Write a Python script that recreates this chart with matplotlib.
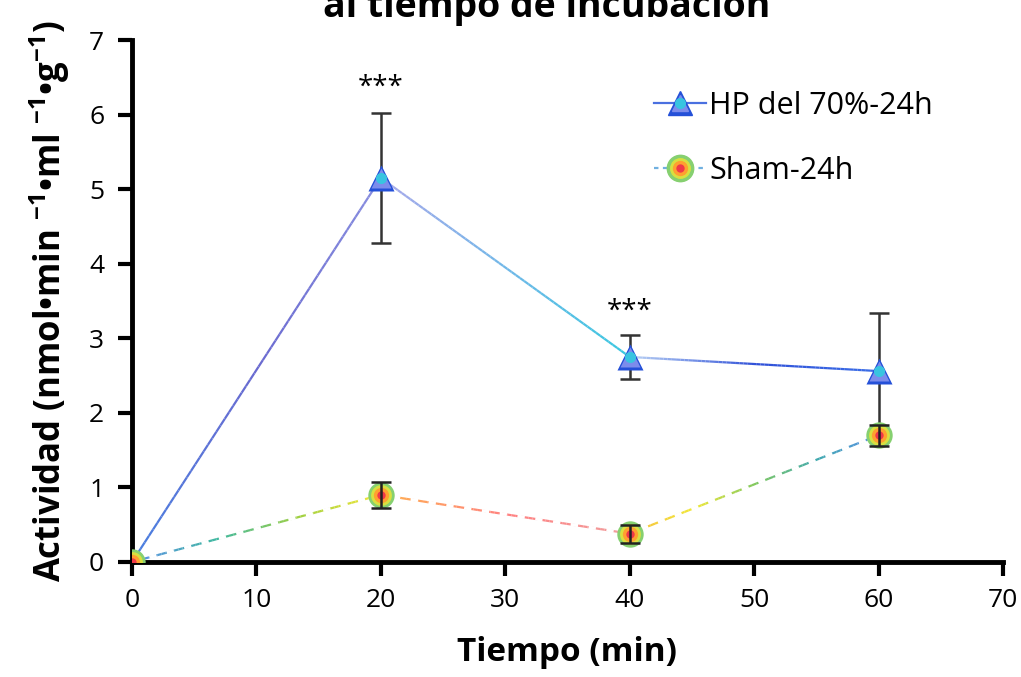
import numpy as np
import matplotlib.pyplot as plt
from matplotlib.collections import LineCollection
from matplotlib.colors import LinearSegmentedColormap
from matplotlib.lines import Line2D
from matplotlib.legend_handler import HandlerTuple

plt.rcParams['font.family'] = ['Open Sans', 'DejaVu Sans']
plt.rcParams['mathtext.fontset'] = 'custom'
plt.rcParams['mathtext.rm'] = 'Open Sans'
plt.rcParams['mathtext.default'] = 'regular'

# Actividad vs tiempo de incubacion
tiempo = [0, 20, 40, 60]
hp_media = [0.0, 5.15, 2.75, 2.56]
hp_err = [0.0, 0.87, 0.30, 0.78]
sham_media = [0.0, 0.90, 0.38, 1.70]
sham_err = [0.0, 0.17, 0.12, 0.14]
sig_x = [20, 40]
sig_y = [6.36, 3.35]
sig_text = ['***', '***']

hp_label = 'HP del 70%-24h'
sham_label = 'Sham-24h'

# colour stops along each segment of the lines
hp_stops = [['#4a7fe0', '#6a6ad0', '#8a90e0'],
            ['#a8a8ea', '#70b8e8', '#38c8e0'],
            ['#b8d0f4', '#3050d8', '#3a6ee8']]
sham_stops = [['#5b8fe8', '#40b8a0', '#a0d040', '#f8e838'],
              ['#ffb050', '#ff8080', '#f0a0a0'],
              ['#f8c040', '#f0e838', '#80c860', '#40a8b0', '#5b8fe8']]


def gradient_line(ax, x, y, stops, lw, z):
    for i in range(len(x) - 1):
        cmap = LinearSegmentedColormap.from_list('seg', stops[i])
        t = np.linspace(0, 1, 60)
        xs = x[i] + (x[i + 1] - x[i]) * t
        ys = y[i] + (y[i + 1] - y[i]) * t
        pts = np.column_stack([xs, ys]).reshape(-1, 1, 2)
        segs = np.concatenate([pts[:-1], pts[1:]], axis=1)
        lc = LineCollection(segs, colors=cmap(t[:-1]), linewidth=lw,
                            zorder=z, capstyle='butt')
        ax.add_collection(lc)


fig = plt.figure(figsize=(10.21, 6.77), dpi=100)
ax = fig.add_axes([0.1293, 0.1699, 0.853, 0.771])

# Sham: dashed gradient line (white gaps drawn over a solid gradient)
gradient_line(ax, tiempo, sham_media, sham_stops, 1.6, 2)
ax.plot(tiempo, sham_media, color='white', lw=2.4, dashes=(2.2, 3.2),
        dash_capstyle='butt', zorder=2.1)
# HP: solid gradient line
gradient_line(ax, tiempo, hp_media, hp_stops, 1.6, 3)

# error bars
ax.errorbar(tiempo[1:], hp_media[1:], yerr=hp_err[1:], fmt='none',
            ecolor='#333333', elinewidth=1.8, capsize=7, capthick=1.8, zorder=4)
ax.errorbar(tiempo[1:], sham_media[1:], yerr=sham_err[1:], fmt='none',
            ecolor='#222222', elinewidth=1.8, capsize=7, capthick=1.8, zorder=7)

# Sham markers: green-yellow-orange-red rings
for ms, c in [(19, '#86d070'), (15, '#d8e040'), (11, '#ffa030'), (6, '#f03848')]:
    ax.plot(tiempo, sham_media, 'o', ms=ms, color=c, mec='none', zorder=6)
# HP markers: blue triangle with cyan centre
for mk, ms, c in [('^', 19, '#2450d8'), ('^', 14, '#7c8cec'), ('o', 8, '#38c4e0')]:
    ax.plot(tiempo, hp_media, mk, ms=ms, color=c, mec='none', zorder=5)

for x, y, s in zip(sig_x, sig_y, sig_text):
    ax.text(x, y, s, ha='center', va='center', fontsize=20, color='black')

ax.set_xlim(0, 70)
ax.set_ylim(0, 7)
ax.set_xticks(range(0, 71, 10))
ax.set_yticks(range(0, 8))
ax.tick_params(direction='out', length=10, width=3, labelsize=19)
ax.tick_params(axis='x', pad=9)
ax.tick_params(axis='y', pad=10)
for side in ['top', 'right']:
    ax.spines[side].set_visible(False)
for side in ['left', 'bottom']:
    ax.spines[side].set_linewidth(3.5)

ax.set_xlabel('Tiempo (min)', fontsize=24, fontweight='bold', labelpad=16)
ax.set_ylabel('Actividad (nmol•min $^{-1}$•ml $^{-1}$•g$^{-1}$)', fontsize=25,
              fontweight='bold', labelpad=12)

fig.text(0.535, 1 - 17 / 677, 'al tiempo de incubación', ha='center',
         va='baseline', fontsize=27, fontweight='bold')

# legend with layered markers
hp_handle = (Line2D([], [], color='#4a70e0', lw=1.6),
             Line2D([], [], marker='^', ms=17, color='#2450d8', ls='none'),
             Line2D([], [], marker='^', ms=12, color='#7c8cec', ls='none'),
             Line2D([], [], marker='o', ms=7, color='#38c4e0', ls='none'))
sham_handle = (Line2D([], [], color='#70b0e0', lw=1.6, ls=(0, (2, 2))),
               Line2D([], [], marker='o', ms=19, color='#86d070', ls='none'),
               Line2D([], [], marker='o', ms=14, color='#d8e040', ls='none'),
               Line2D([], [], marker='o', ms=10, color='#ffa030', ls='none'),
               Line2D([], [], marker='o', ms=5, color='#f03848', ls='none'))
ax.legend([hp_handle, sham_handle], [hp_label, sham_label],
          handler_map={tuple: HandlerTuple(ndivide=1, pad=0)},
          loc='upper left', bbox_to_anchor=(0.568, 0.955), frameon=False,
          fontsize=22, handlelength=1.7, handletextpad=0.1, labelspacing=1.15)

fig.savefig('out.png', dpi=100)
